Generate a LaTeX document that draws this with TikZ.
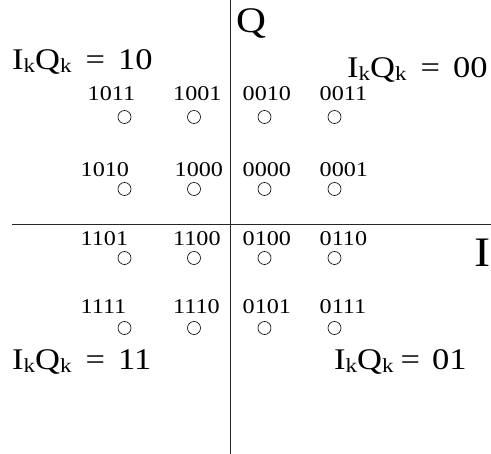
\documentclass[tikz,border=0pt]{standalone}
\usepackage{fontspec}
\setmainfont[FakeStretch=1.15]{Liberation Serif}
\usepackage{tikz}
\usetikzlibrary{positioning}
\newcommand{\IkQk}{I\raisebox{-3pt}{\fontsize{20}{20}\selectfont k}Q\raisebox{-3pt}{\fontsize{20}{20}\selectfont k}}

\begin{document}
\begin{tikzpicture}[
    x=1pt, y=-1pt,
    axis/.style={line width=0.8pt, draw=black!85},
    pt/.style={circle, draw, line width=0.6pt, minimum size=13pt, inner sep=0pt},
    bits/.style={anchor=base west, inner sep=0pt, font=\fontsize{21}{24}\selectfont},
    quad/.style={anchor=base west, inner sep=0pt, font=\fontsize{30}{34}\selectfont},
    axislbl/.style={anchor=base west, inner sep=0pt, font=\fontsize{#1}{#1}\selectfont}
]
\useasboundingbox (0,0) rectangle (491,454);

% axes
\coordinate (qtop) at (230,0);
\coordinate (qbot) at (230,454);
\coordinate (ileft) at (12,224);
\coordinate (iright) at (491,224);
\draw[axis] (qtop) -- (qbot);
\draw[axis] (ileft) -- (iright);
\node[axislbl=36] (qlbl) at (236,33) {Q};
\node[axislbl=42] (ilbl) at (474,267) {I};

% quadrant labels
\node[quad] (q10) at (12,70) {\IkQk\hspace{14pt}=\hspace{13pt}10};
\node[quad] (q00) at (347,78) {\IkQk\hspace{14pt}=\hspace{13pt}00};
\node[quad] (q11) at (12,370) {\IkQk\hspace{14pt}=\hspace{13pt}11};
\node[quad] (q01) at (334,370) {\IkQk\hspace{7pt}=\hspace{12pt}01};

% constellation points: code / circle x / circle y / label x / label baseline
\foreach \code/\cx/\cy/\lx/\ly in {
    1011/124.5/117/87.5/101, 1001/194/117/173/101, 0010/264.5/117/242.5/101, 0011/334.5/117/319.5/101,
    1010/124.5/189/80.5/177, 1000/194/189/174.5/177, 0000/264.5/189/242.5/177, 0001/334.5/189/319.5/177,
    1101/124.5/258/80.5/246, 1100/194/258/173/246, 0100/264.5/258/242.5/246, 0110/334.5/258/319.5/246,
    1111/124.5/328/80.5/314, 1110/194/328/173/314, 0101/264.5/328/242.5/314, 0111/334.5/328/319.5/314}
{
    \node[pt] (p\code) at (\cx,\cy) {};
    \node[bits] (l\code) at (\lx,\ly) {\code};
}
\end{tikzpicture}
\end{document}
